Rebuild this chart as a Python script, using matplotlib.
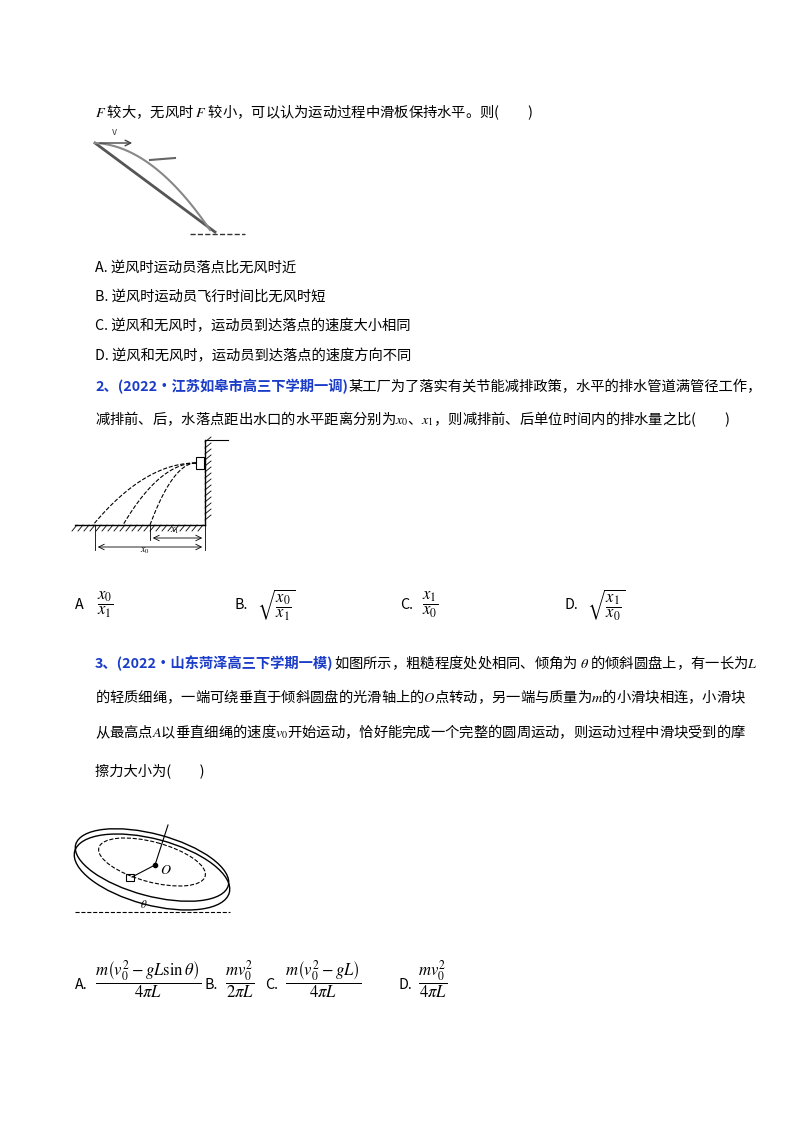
import matplotlib
matplotlib.use("Agg")
import matplotlib.pyplot as plt
import numpy as np
from matplotlib.patches import Ellipse

plt.rcParams['font.family'] = ['Noto Sans CJK SC', 'DejaVu Sans']
plt.rcParams['mathtext.fontset'] = 'stix'

# ---- text content ----
q1_lines = [(95, 112, "$F$ 较大，无风时 $F$ 较小，可以认为运动过程中滑板保持水平。则(　　)")]
q1_options = ["A. 逆风时运动员落点比无风时近",
              "B. 逆风时运动员飞行时间比无风时短",
              "C. 逆风和无风时，运动员到达落点的速度大小相同",
              "D. 逆风和无风时，运动员到达落点的速度方向不同"]
q1_opt_y = [268, 297, 326, 356]
q2_head = "2、(2022·江苏如皋市高三下学期一调)"
q2_lines = ["某工厂为了落实有关节能减排政策，水平的排水管道满管径工作，",
            "减排前、后，水落点距出水口的水平距离分别为$x_0$、$x_1$，则减排前、后单位时间内的排水量之比(　　)"]
q2_opts = [("A", r"$\dfrac{x_0}{x_1}$"), ("B.", r"$\sqrt{\dfrac{x_0}{x_1}}$"),
           ("C.", r"$\dfrac{x_1}{x_0}$"), ("D.", r"$\sqrt{\dfrac{x_1}{x_0}}$")]
q2_opt_x = [75, 235, 400, 565]
q3_head = "3、(2022·山东菏泽高三下学期一模)"
q3_lines = ["如图所示，粗糙程度处处相同、倾角为 $\\theta$ 的倾斜圆盘上，有一长为$L$",
            "的轻质细绳，一端可绕垂直于倾斜圆盘的光滑轴上的$O$点转动，另一端与质量为$m$的小滑块相连，小滑块",
            "从最高点$A$以垂直细绳的速度$v_0$开始运动，恰好能完成一个完整的圆周运动，则运动过程中滑块受到的摩",
            "擦力大小为(　　)"]
q3_opts = [("A.", r"$\dfrac{m\left(v_0^2-gL\sin\theta\right)}{4\pi L}$", 75),
           ("B.", r"$\dfrac{mv_0^2}{2\pi L}$", 205),
           ("C.", r"$\dfrac{m\left(v_0^2-gL\right)}{4\pi L}$", 265),
           ("D.", r"$\dfrac{mv_0^2}{4\pi L}$", 398)]

fig = plt.figure(figsize=(8, 11.32), dpi=100)
ax = fig.add_axes([0, 0, 1, 1])
ax.set_xlim(0, 800); ax.set_ylim(1132, 0); ax.axis('off')
fs = 10.3

for x, y, t in q1_lines:
    ax.text(x, y, t, fontsize=fs, va='center')
for t, y in zip(q1_options, q1_opt_y):
    ax.text(95, y, t, fontsize=fs, va='center')

# diagram 1
ax.plot([95, 215], [143, 232], color='#555', lw=2)
tt = np.linspace(0, 1, 50)
ax.plot(95 + 115 * tt, 143 + 5 * tt + 82 * tt**2, color='#888', lw=1.5)
ax.annotate("", xy=(135, 143), xytext=(97, 143), arrowprops=dict(arrowstyle='->', color='#444', lw=1))
ax.text(112, 135, "v", fontsize=7, style='italic', color='#444')
ax.plot([190, 245], [234, 234], ls='--', color='#333', lw=1)
ax.plot([150, 175], [160, 158], color='#666', lw=1.5)

# Q2
h2 = ax.text(95, 387, q2_head, fontsize=fs, va='center', color='#1a3cc8', weight='bold')
ax.annotate(q2_lines[0], xy=(1, 0.5), xycoords=h2, va='center', fontsize=fs)
ax.text(95, 419, q2_lines[1], fontsize=fs, va='center')
ax.plot([205, 205], [440, 525], color='k', lw=1)
for yy in range(442, 525, 6):
    ax.plot([205, 211], [yy, yy - 5], color='k', lw=0.6)
ax.plot([205, 228], [440, 440], color='k', lw=0.8)
ax.plot([75, 205], [525, 525], color='k', lw=1)
for xx in range(77, 205, 6):
    ax.plot([xx, xx - 5], [525, 531], color='k', lw=0.6)
ax.add_patch(plt.Rectangle((196, 457), 8, 12, fill=False, lw=0.8))
for xe in [93, 123, 150]:
    tt = np.linspace(0, 1, 60)
    ax.plot(196 - (196 - xe) * tt, 463 + 62 * tt**2, ls='--', color='k', lw=0.8)
ax.plot([150, 150], [525, 540], color='k', lw=0.6)
ax.plot([95, 95], [525, 550], color='k', lw=0.6)
ax.plot([205, 205], [525, 550], color='k', lw=0.6)
ax.annotate("", xy=(150, 538), xytext=(205, 538), arrowprops=dict(arrowstyle='<->', lw=0.6))
ax.annotate("", xy=(95, 547), xytext=(205, 547), arrowprops=dict(arrowstyle='<->', lw=0.6))
ax.text(170, 533, "$x_1$", fontsize=7)
ax.text(140, 546, "$x_0$", fontsize=7, va='top')
for (lab, f), x in zip(q2_opts, q2_opt_x):
    ax.text(x, 605, lab, fontsize=fs, va='center')
    ax.text(x + 22, 605, f, fontsize=12, va='center')

# Q3
h3 = ax.text(95, 663, q3_head, fontsize=fs, va='center', color='#1a3cc8', weight='bold')
ax.annotate(q3_lines[0], xy=(1, 0.5), xycoords=h3, va='center', fontsize=fs)
for t, y in zip(q3_lines[1:], [697, 732, 771]):
    ax.text(95, y, t, fontsize=fs, va='center')
ax.add_patch(Ellipse((152, 872), 160, 66, angle=15, fill=False, lw=1))
ax.add_patch(Ellipse((152, 865), 158, 62, angle=15, fill=False, lw=1))
ax.add_patch(Ellipse((152, 862), 110, 40, angle=15, fill=False, lw=0.8, ls='--'))
ax.plot([168, 155], [825, 865], color='k', lw=0.8)
ax.plot(155, 865, 'ko', ms=3)
ax.plot([155, 132], [865, 877], color='k', lw=0.8)
ax.add_patch(plt.Rectangle((126, 874), 8, 7, fill=False, lw=0.8))
ax.text(160, 874, "$O$", fontsize=10)
ax.plot([75, 230], [912, 912], ls='--', color='k', lw=0.8)
ax.text(140, 908, r"$\theta$", fontsize=8)
for lab, f, x in q3_opts:
    ax.text(x, 985, lab, fontsize=fs, va='center')
    ax.text(x + 20, 980, f, fontsize=12, va='center')

fig.savefig("out.png", dpi=100)
